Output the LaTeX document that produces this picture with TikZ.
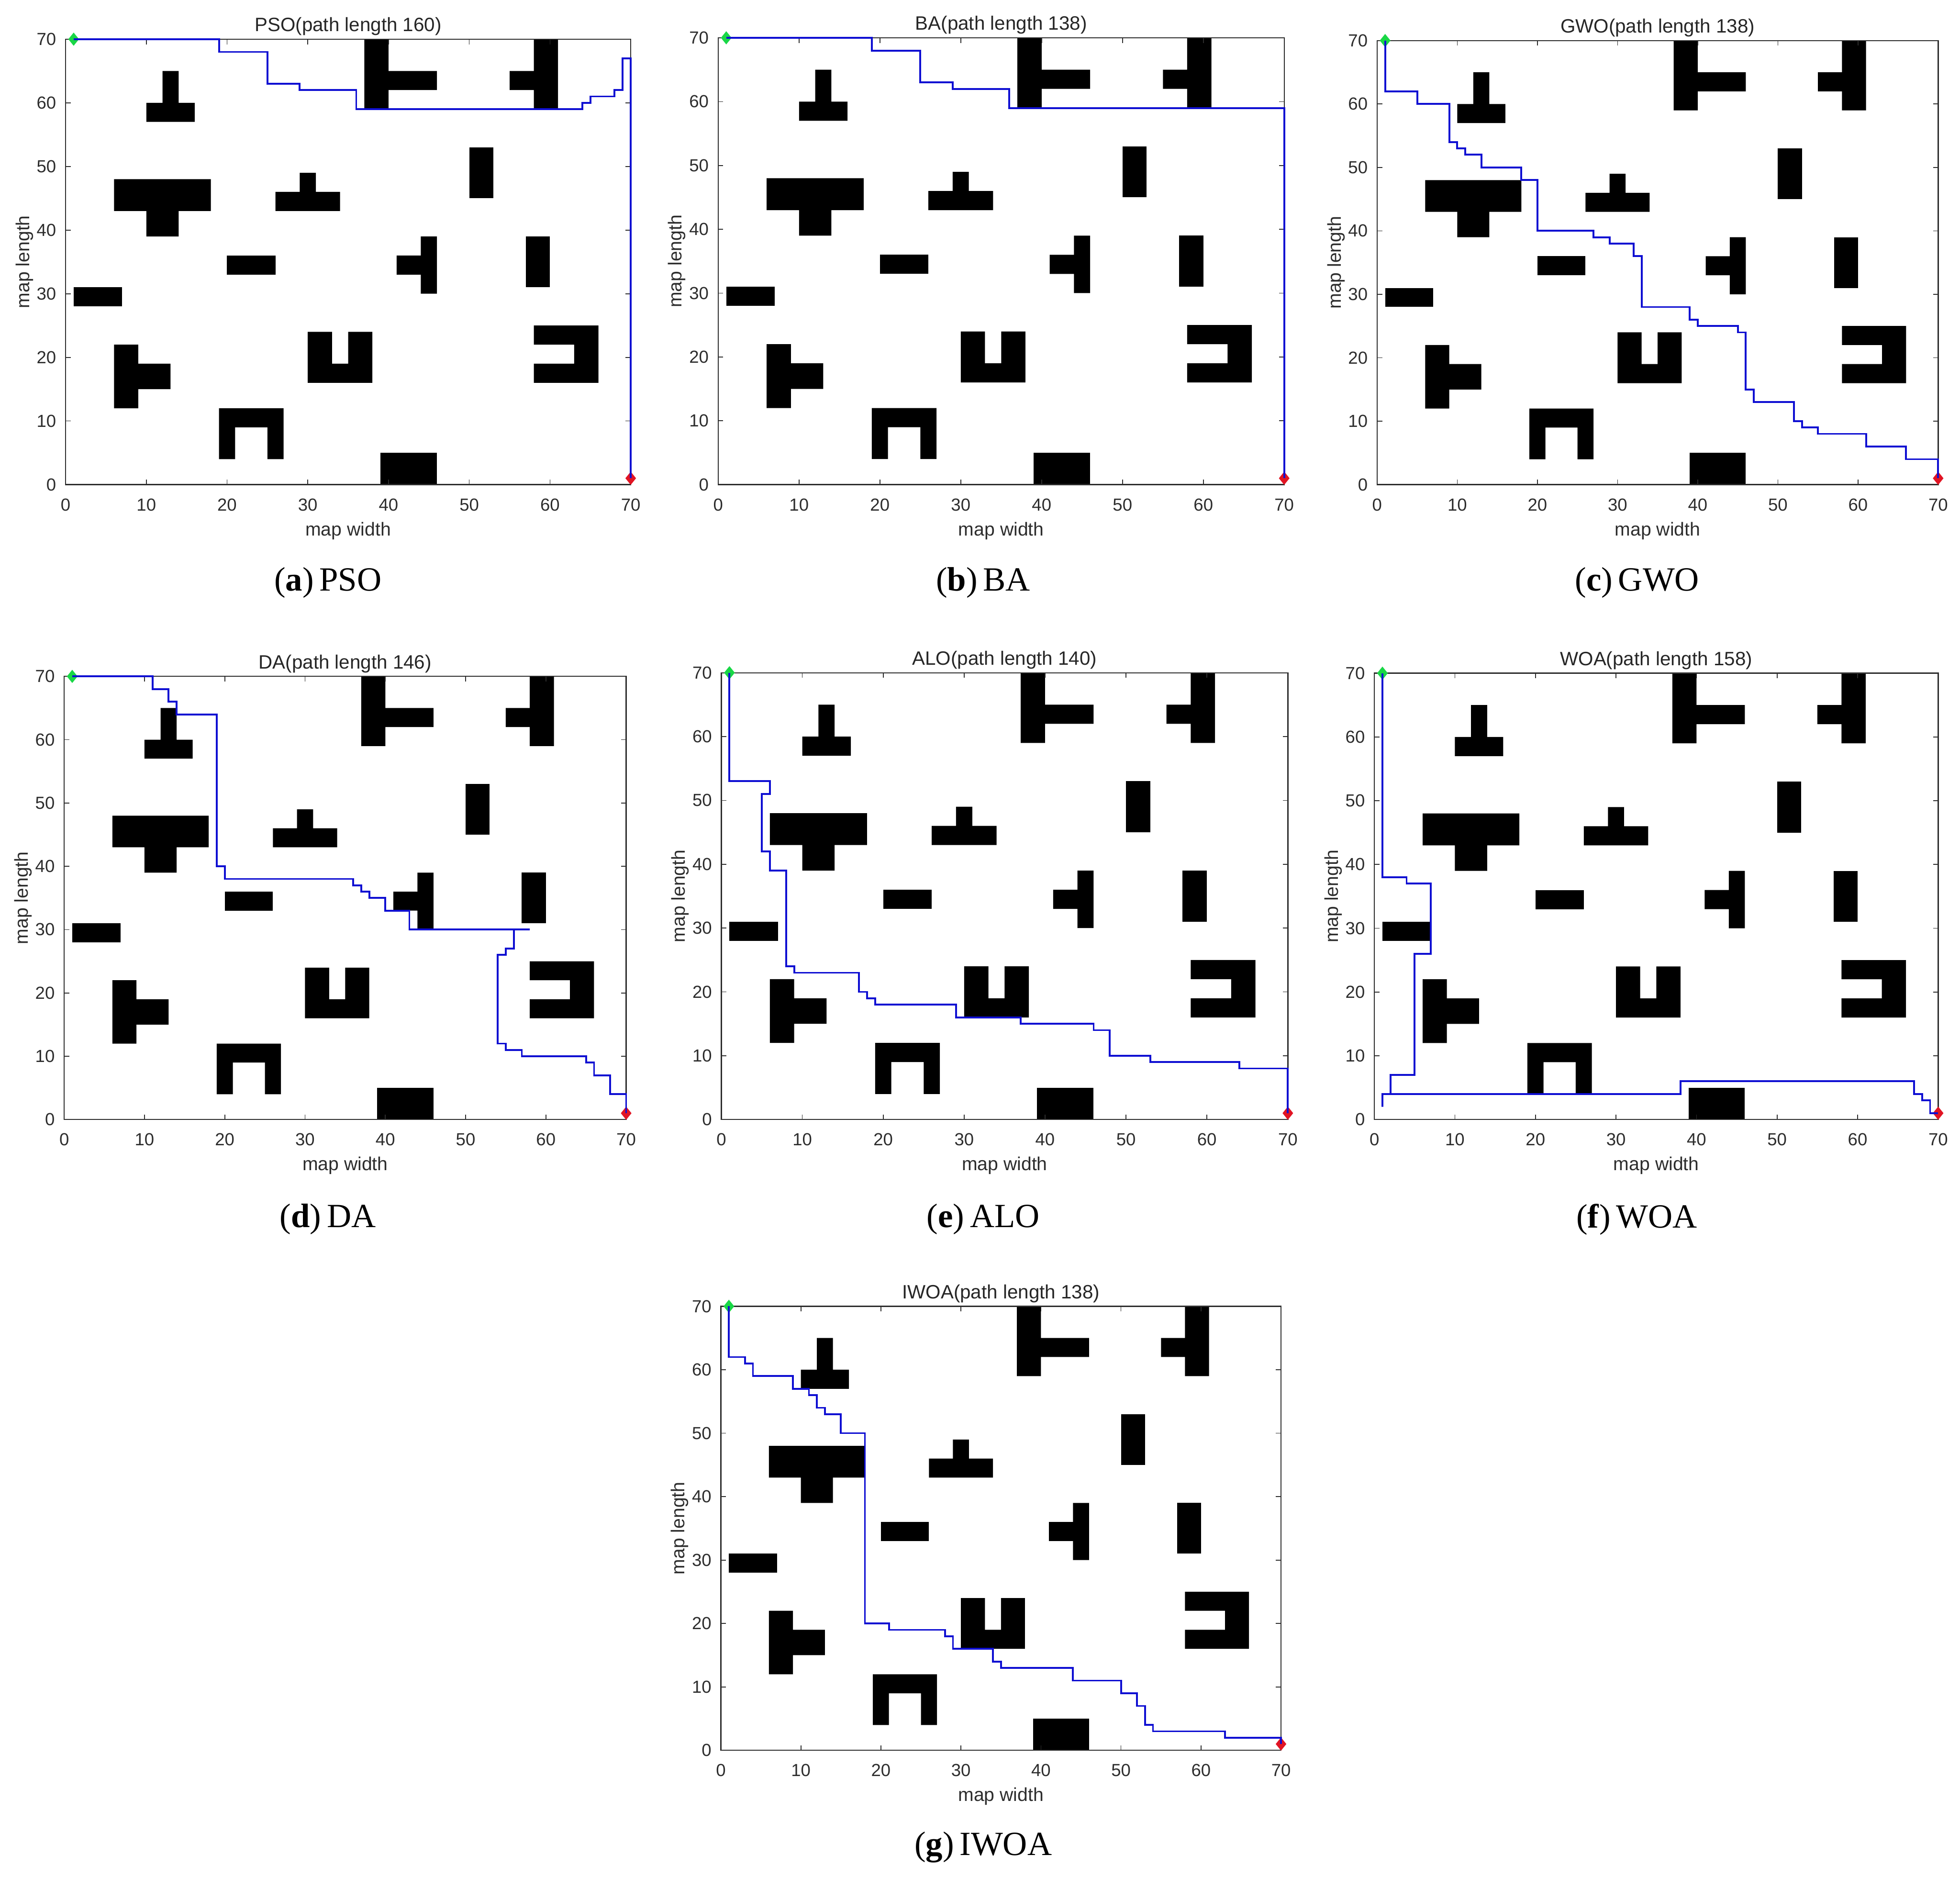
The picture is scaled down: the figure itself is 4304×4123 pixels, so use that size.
\documentclass[tikz,border=0pt]{standalone}
\usepackage{fontspec}
\setmainfont{Liberation Serif}
\setsansfont{Liberation Sans}
\usetikzlibrary{shapes.geometric}
\definecolor{axisgray}{RGB}{45,45,45}
\definecolor{pathblue}{RGB}{15,15,210}
\definecolor{startgreen}{RGB}{25,215,70}
\definecolor{endred}{RGB}{225,20,35}
\tikzset{
  obstacle/.style={fill=black,draw=none},
  axisframe/.style={draw=axisgray,line width=0.6pt},
  axistick/.style={draw=axisgray,line width=0.45pt},
  ticklabel/.style={font=\sffamily\fontsize{9.6}{11}\selectfont,text=axisgray,inner sep=0pt},
  axislabel/.style={font=\sffamily\fontsize{10.3}{12}\selectfont,text=axisgray,inner sep=0pt},
  maptitle/.style={font=\sffamily\fontsize{10.6}{12}\selectfont,text=black!85,inner sep=0pt},
  mappath/.style={draw=pathblue,line width=1pt,line join=miter},
  startmark/.style={diamond,fill=startgreen,draw=none,minimum width=6pt,minimum height=7.4pt,inner sep=0pt},
  endmark/.style={diamond,fill=endred,draw=none,minimum width=6pt,minimum height=7.4pt,inner sep=0pt},
  subcaption/.style={font=\rmfamily\fontsize{18.6}{22}\selectfont,text=black,inner sep=0pt,anchor=center},
}
\newcommand{\mapobstacles}{%
  \fill[obstacle] (10,57) -- (16,57) -- (16,60) -- (14,60) -- (14,65) -- (12,65) -- (12,60) -- (10,60) -- cycle;
  \fill[obstacle] (6,43) -- (10,43) -- (10,39) -- (14,39) -- (14,43) -- (18,43) -- (18,48) -- (6,48) -- cycle;
  \fill[obstacle] (26,43) -- (34,43) -- (34,46) -- (31,46) -- (31,49) -- (29,49) -- (29,46) -- (26,46) -- cycle;
  \fill[obstacle] (20,33) rectangle (26,36);
  \fill[obstacle] (1,28) rectangle (7,31);
  \fill[obstacle] (6,12) -- (9,12) -- (9,15) -- (13,15) -- (13,19) -- (9,19) -- (9,22) -- (6,22) -- cycle;
  \fill[obstacle] (30,16) -- (38,16) -- (38,24) -- (35,24) -- (35,19) -- (33,19) -- (33,24) -- (30,24) -- cycle;
  \fill[obstacle] (19,4) -- (21,4) -- (21,9) -- (25,9) -- (25,4) -- (27,4) -- (27,12) -- (19,12) -- cycle;
  \fill[obstacle] (39,0) rectangle (46,5);
  \fill[obstacle] (37,59) -- (40,59) -- (40,62) -- (46,62) -- (46,65) -- (40,65) -- (40,70) -- (37,70) -- cycle;
  \fill[obstacle] (58,59) -- (61,59) -- (61,70) -- (58,70) -- (58,65) -- (55,65) -- (55,62) -- (58,62) -- cycle;
  \fill[obstacle] (50,45) rectangle (53,53);
  \fill[obstacle] (44,30) -- (46,30) -- (46,39) -- (44,39) -- (44,36) -- (41,36) -- (41,33) -- (44,33) -- cycle;
  \fill[obstacle] (57,31) rectangle (60,39);
  \fill[obstacle] (58,16) -- (66,16) -- (66,25) -- (58,25) -- (58,22) -- (63,22) -- (63,19) -- (58,19) -- cycle;
}
% #1 id, #2 x0, #3 x70, #4 y70, #5 y0, #6 title, #7 path points
\newcommand{\mappanel}[7]{%
  \pgfmathsetmacro\panelsx{(#3-#2)/70*0.25}%
  \pgfmathsetmacro\panelsy{(#5-#4)/70*0.25}%
  \begin{scope}[shift={(#2,#5)},x=\panelsx pt,y=\panelsy pt]
    \mapobstacles
    \draw[axisframe] (0,0) rectangle (70,70);
    \foreach \t in {10,20,...,60} {
      \draw[axistick] (\t,0) -- ++(0,2.8pt);
      \draw[axistick] (\t,70) -- ++(0,-2.8pt);
    }
    \foreach \t in {10,20,...,70} {
      \draw[axistick] (0,\t) -- ++(2.8pt,0);
      \draw[axistick] (70,\t) -- ++(-2.8pt,0);
    }
    \node[startmark] (#1start) at (1,70) {};
    \node[endmark] (#1end) at (70,1) {};
    \draw[mappath] plot coordinates {#7};
    \foreach \t in {0,10,...,70} {
      \node[ticklabel,yshift=-11pt] (#1x\t) at (\t,0) {\t};
      \node[ticklabel,anchor=east,xshift=-5pt] (#1y\t) at (0,\t) {\t};
    }
    \node[maptitle,yshift=7pt] (#1title) at (35,70) {#6};
    \node[axislabel,yshift=-25.3pt] (#1xlabel) at (35,0) {map width};
    \node[axislabel,rotate=90] (#1ylabel) at ([xshift=-22.6pt]0,35) {map length};
  \end{scope}
}
\begin{document}
\begin{tikzpicture}[x=0.25pt,y=-0.25pt]
\useasboundingbox (0,0) rectangle (4304,4123);
\fill[white] (0,0) rectangle (4304,4123);

\mappanel{a}{144}{1385}{86}{1064}{PSO(path length 160)}{(1,70) (19,70) (19,68) (25,68) (25,63) (29,63) (29,62) (36,62) (36,59) (64,59) (64,60) (65,60) (65,61) (68,61) (68,62) (69,62) (69,67) (70,67) (70,1)}
\node[subcaption] (capa) at (720,1279) {(\textbf{a})\,PSO};

\mappanel{b}{1577}{2820}{83}{1064}{BA(path length 138)}{(1,70) (19,70) (19,68) (25,68) (25,63) (29,63) (29,62) (36,62) (36,59) (70,59) (70,1)}
\node[subcaption] (capb) at (2159,1279) {(\textbf{b})\,BA};

\mappanel{c}{3024}{4256}{89}{1064}{GWO(path length 138)}{(1,70) (1,62) (5,62) (5,60) (9,60) (9,54) (10,54) (10,53) (11,53) (11,52) (13,52) (13,50) (18,50) (18,48) (20,48) (20,40) (27,40) (27,39) (29,39) (29,38) (32,38) (32,36) (33,36) (33,28) (39,28) (39,26) (40,26) (40,25) (45,25) (45,24) (46,24) (46,15) (47,15) (47,13) (52,13) (52,10) (53,10) (53,9) (55,9) (55,8) (61,8) (61,6) (66,6) (66,4) (70,4) (70,1)}
\node[subcaption] (capc) at (3595,1279) {(\textbf{c})\,GWO};

\mappanel{d}{141}{1375}{1485}{2458}{DA(path length 146)}{(1,70) (11,70) (11,68) (13,68) (13,66) (14,66) (14,64) (19,64) (19,40) (20,40) (20,38) (36,38) (36,37) (37,37) (37,36) (38,36) (38,35) (40,35) (40,33) (43,33) (43,30) (58,30) (56,30) (56,27) (55,27) (55,26) (54,26) (54,12) (55,12) (55,11) (57,11) (57,10) (65,10) (65,9) (66,9) (66,7) (68,7) (68,4) (70,4) (70,1)}
\node[subcaption] (capd) at (720,2677) {(\textbf{d})\,DA};

\mappanel{e}{1584}{2828}{1477}{2458}{ALO(path length 140)}{(1,70) (1,53) (6,53) (6,51) (5,51) (5,42) (6,42) (6,39) (8,39) (8,24) (9,24) (9,23) (17,23) (17,20) (18,20) (18,19) (19,19) (19,18) (29,18) (29,16) (37,16) (37,15) (46,15) (46,14) (48,14) (48,10) (53,10) (53,9) (64,9) (64,8) (70,8) (70,1)}
\node[subcaption] (cape) at (2159,2677) {(\textbf{e})\,ALO};

\mappanel{f}{3018}{4256}{1478}{2458}{WOA(path length 158)}{(1,70) (1,38) (4,38) (4,37) (7,37) (7,26) (5,26) (5,7) (2,7) (2,4) (1,4) (1,2) (1,4) (38,4) (38,6) (67,6) (67,4) (68,4) (68,3) (69,3) (69,1) (70,1)}
\node[subcaption] (capf) at (3594,2677) {(\textbf{f})\,WOA};

\mappanel{g}{1583}{2813}{2868}{3843}{IWOA(path length 138)}{(1,70) (1,62) (3,62) (3,61) (4,61) (4,59) (9,59) (9,57) (11,57) (11,56) (12,56) (12,54) (13,54) (13,53) (15,53) (15,50) (18,50) (18,20) (21,20) (21,19) (28,19) (28,18) (29,18) (29,16) (34,16) (34,14) (35,14) (35,13) (44,13) (44,11) (50,11) (50,9) (52,9) (52,7) (53,7) (53,4) (54,4) (54,3) (63,3) (63,2) (70,2) (70,1)}
\node[subcaption] (capg) at (2159,4056) {(\textbf{g})\,IWOA};
\end{tikzpicture}
\end{document}
